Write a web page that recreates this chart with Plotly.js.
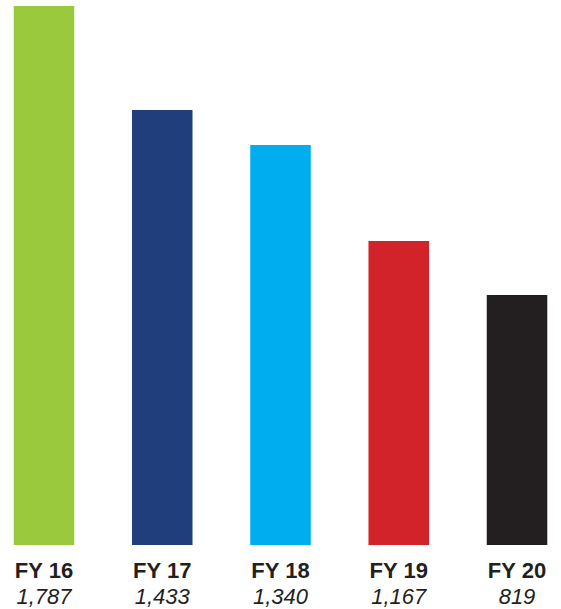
<!DOCTYPE html>
<html>
<head>
<meta charset="utf-8">
<script src="https://cdn.plot.ly/plotly-3.0.1.min.js"></script>
<style>html,body{margin:0;padding:0;background:#fff;}#chart{width:561px;height:609px;}</style>
</head>
<body>
<div id="chart"></div>
<script>
// Categories (fiscal years)
var categories = ["FY 16", "FY 17", "FY 18", "FY 19", "FY 20"];
// Values printed under each bar
var labelValues = [1787, 1433, 1340, 1167, 819];
// Bar heights as drawn in the picture (same units as the labels)
var barHeights = [1787, 1442, 1326, 1008, 829];
// Bar colours
var barColors = ["#9AC93D", "#1F3E7B", "#00AEEF", "#D2232A", "#231F20"];

var tickText = categories.map(function (c, i) {
  return "<span style='font-size:22px'><b>" + c + "</b></span><br>" +
         "<span style='font-size:22px'><i>" + labelValues[i].toLocaleString("en-US") + "</i></span>";
});

var trace = {
  type: "bar",
  x: categories,
  y: barHeights,
  marker: { color: barColors, line: { width: 0 } },
  hoverinfo: "none"
};

var layout = {
  width: 561,
  height: 609,
  margin: { l: 0, r: 0, t: 6, b: 64, pad: 0 },
  paper_bgcolor: "#ffffff",
  plot_bgcolor: "#ffffff",
  bargap: 0.488,
  showlegend: false,
  font: { family: "Liberation Sans, Arial, sans-serif", color: "#231F20" },
  xaxis: {
    type: "category",
    range: [-0.372, 4.372],
    tickmode: "array",
    tickvals: categories,
    ticktext: tickText,
    tickfont: { size: 20.5, color: "#231F20", family: "Liberation Sans, Arial, sans-serif" },
    ticklabelstandoff: 11,
    showgrid: false,
    zeroline: false,
    showline: false,
    ticks: ""
  },
  yaxis: {
    range: [0, 1787],
    showgrid: false,
    zeroline: false,
    showline: false,
    showticklabels: false,
    ticks: ""
  }
};

Plotly.newPlot("chart", [trace], layout, { staticPlot: true, displayModeBar: false });
</script>
</body>
</html>
